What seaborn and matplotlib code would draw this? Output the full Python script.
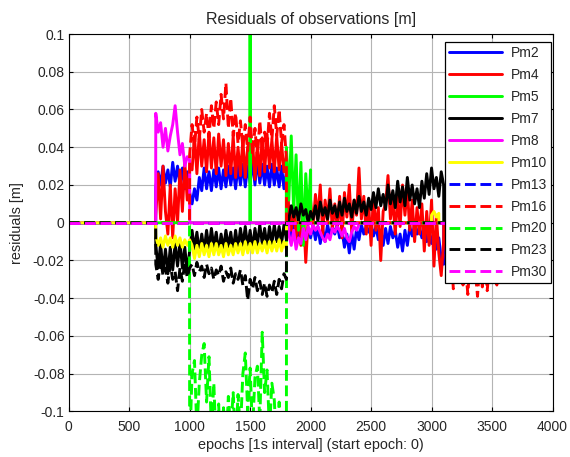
import numpy as np
import pandas as pd
import seaborn as sns
import matplotlib
matplotlib.use("Agg")
import matplotlib.pyplot as plt
from matplotlib.ticker import FuncFormatter, MultipleLocator

# ---------------------------------------------------------------------------
# Residuals per satellite (metres).  Each track is zero outside the listed
# segments; segments are (first epoch, epoch step, values).
# ---------------------------------------------------------------------------
END_EPOCH = 3560

pm2_early = [0.019, 0.027, 0.020, 0.030, 0.021, 0.028, 0.019, 0.032, 0.022, 0.030,
             0.020, 0.029, 0.018, 0.027, 0.016,
             0.010, 0.018, 0.012, 0.024, 0.017, 0.029, 0.018, 0.027, 0.017, 0.028,
             0.019, 0.029, 0.018, 0.028, 0.019, 0.030, 0.020, 0.029, 0.018, 0.030,
             0.020, 0.031, 0.019, 0.030, 0.021, 0.033, 0.020, 0.034, 0.021, 0.031,
             0.020, 0.030, 0.019, 0.031, 0.020, 0.029, 0.019, 0.030, 0.018, 0.027]
pm2_late = [-0.002, -0.009, -0.001, -0.010, -0.003, -0.011, -0.002, -0.012, -0.003, -0.008,
            -0.001, -0.009, -0.002, -0.011, -0.003, -0.010, -0.001, -0.007, -0.002, -0.006,
            -0.001, -0.008, -0.004, -0.013, -0.006, -0.016, -0.005, -0.014, -0.003, -0.009,
            -0.001, -0.006, -0.002, -0.005, -0.001, -0.007, -0.002, -0.009, -0.004, -0.012,
            -0.003, -0.011, -0.002, -0.008, -0.004, -0.013, -0.006, -0.015, -0.004, -0.012,
            -0.002, -0.007, -0.001, -0.006, -0.002, -0.008, -0.003, -0.010, -0.004, -0.011,
            -0.005, -0.014, -0.008, -0.019, -0.022]

pm4_early = [0.004, 0.026, 0.002, 0.030, 0.006, -0.006, 0.020, -0.008, 0.018, 0.000,
             0.028, 0.006, 0.032, 0.012, 0.030,
             0.028, 0.046, 0.026, 0.048, 0.030, 0.044, 0.027, 0.048, 0.029, 0.045,
             0.026, 0.047, 0.030, 0.044, 0.025, 0.042, 0.026, 0.046, 0.024, 0.040,
             0.025, 0.044, 0.024, 0.040, 0.026, 0.043, 0.023, 0.041, 0.025, 0.045,
             0.027, 0.047, 0.029, 0.044, 0.027, 0.046, 0.028, 0.042, 0.027, 0.036]
pm4_late = [0.006, -0.004, 0.010, -0.008, 0.004, -0.012, 0.008, -0.021, 0.002, 0.012,
            -0.003, 0.015, 0.002, 0.020, -0.006, 0.012, 0.001, 0.018, -0.004, 0.010,
            -0.002, 0.014, -0.008, 0.016, 0.003, 0.020, -0.005, 0.012, 0.004, 0.029,
            0.002, 0.014, -0.006, 0.010, -0.012, 0.015, -0.004, 0.008, -0.020, 0.006,
            0.010, 0.025, 0.002, 0.012, -0.006, 0.014, -0.002, 0.020, 0.004, 0.018,
            -0.004, 0.012, -0.010, 0.008, -0.006, 0.010, -0.015, 0.006, -0.012, 0.012,
            -0.023, 0.004, -0.016, -0.028, -0.010]

pm5_spike = [0.2]
pm5_late = [0.040, 0.012, 0.046, 0.006, 0.036, -0.004, 0.032, -0.012, 0.026, 0.002, 0.028]

pm7_early = [-0.012, -0.024, -0.011, -0.026, -0.014, -0.027, -0.013, -0.025, -0.011, -0.023,
             -0.010, -0.024, -0.013, -0.026, -0.015,
             -0.004, -0.014, -0.005, -0.016, -0.006, -0.015, -0.004, -0.014, -0.003, -0.013,
             -0.005, -0.016, -0.006, -0.014, -0.004, -0.013, -0.005, -0.015, -0.004, -0.014,
             -0.003, -0.012, -0.002, -0.013, -0.004, -0.014, -0.003, -0.012, -0.001, -0.011,
             -0.003, -0.013, -0.002, -0.011, -0.001, -0.010, -0.002, -0.011, -0.001, -0.009]
pm7_late = [0.002, 0.009, 0.003, 0.008, 0.001, 0.010, 0.004, 0.007, 0.000, 0.006,
            0.002, 0.009, 0.001, 0.011, 0.004, 0.008, 0.002, 0.012, 0.005, 0.009,
            0.003, 0.011, 0.004, 0.013, 0.006, 0.010, 0.003, 0.012, 0.005, 0.014,
            0.006, 0.011, 0.004, 0.013, 0.007, 0.016, 0.008, 0.018, 0.009, 0.015,
            0.007, 0.020, 0.010, 0.017, 0.008, 0.022, 0.011, 0.019, 0.009, 0.024,
            0.012, 0.020, 0.010, 0.018, 0.008, 0.022, 0.013, 0.026, 0.015, 0.029,
            0.018, 0.024, 0.014, 0.027, 0.020]

pm8_early = [0.058, 0.048, 0.053, 0.040, 0.050, 0.038, 0.046, 0.052, 0.062, 0.048,
             0.036, 0.042, 0.030, 0.035, 0.033]
pm8_late = [-0.006, -0.012, -0.004, -0.014, -0.008, -0.011, -0.003, -0.009, -0.002, -0.006,
            -0.001, -0.004, -0.002, -0.005, -0.008, -0.010, -0.006, -0.009, -0.003, -0.005,
            -0.002, -0.004, -0.007, -0.003, -0.008, -0.010, -0.005, -0.002, -0.004, -0.001]

pm10_vals = [-0.007, -0.012, -0.008, -0.013, -0.007, -0.012, -0.008, -0.013, -0.007, -0.012,
             -0.008, -0.013, -0.009, -0.012, -0.009,
             -0.012, -0.019, -0.012, -0.018, -0.011, -0.017, -0.012, -0.018, -0.011, -0.017,
             -0.011, -0.017, -0.012, -0.018, -0.011, -0.017, -0.012, -0.017, -0.011, -0.016,
             -0.011, -0.017, -0.010, -0.016, -0.011, -0.016, -0.010, -0.016, -0.011, -0.015,
             -0.010, -0.016, -0.010, -0.015, -0.010, -0.015, -0.009, -0.015, -0.010, -0.014]
pm10_blip = [0.004, 0.006, 0.003, 0.005]

pm16_mid = [0.036, 0.052, 0.040, 0.056, 0.044, 0.060, 0.048, 0.058, 0.045, 0.062,
            0.050, 0.064, 0.052, 0.068, 0.055, 0.074, 0.050, 0.066, 0.046, 0.058,
            0.042, 0.054, 0.040, 0.052, 0.038, 0.056, 0.036, 0.050, 0.034, 0.054,
            0.038, 0.048, 0.040, 0.058, 0.044, 0.062, 0.046, 0.060, 0.042, 0.052,
            0.034]
pm16_tail = [-0.018, -0.030, -0.012, -0.035, -0.020, -0.028, -0.015, -0.033, -0.022, -0.038,
             -0.018, -0.031, -0.024, -0.039, -0.020, -0.034, -0.016, -0.036, -0.022, -0.030,
             -0.026, -0.033]

pm20_vals = [-0.120, -0.080, -0.073, -0.110, -0.085, -0.070, -0.064, -0.095, -0.071, -0.110,
             -0.085, -0.120, -0.096, -0.130, -0.098, -0.120, -0.092, -0.110, -0.090, -0.120,
             -0.091, -0.110, -0.080, -0.069, -0.100, -0.077, -0.110, -0.082, -0.076, -0.105,
             -0.058, -0.090, -0.078, -0.110, -0.085, -0.094, -0.120, -0.095, -0.120, -0.130,
             -0.120]

pm23_vals = [-0.022, -0.030, -0.019, -0.028, -0.024, -0.032, -0.022, -0.030, -0.026, -0.036,
             -0.024, -0.031, -0.021, -0.029, -0.024,
             -0.022, -0.028, -0.021, -0.026, -0.023, -0.029, -0.022, -0.027, -0.024, -0.030,
             -0.025, -0.028, -0.023, -0.031, -0.026, -0.029, -0.024, -0.032, -0.027, -0.030,
             -0.025, -0.033, -0.028, -0.041, -0.030, -0.035, -0.029, -0.036, -0.031, -0.038,
             -0.032, -0.039, -0.033, -0.037, -0.031, -0.038, -0.030, -0.035, -0.027, -0.030]

tracks = {
    "Pm2":  [(720, 20, pm2_early + pm2_late)],
    "Pm4":  [(720, 20, pm4_early + pm4_late)],
    "Pm5":  [(1500, 1, pm5_spike), (1800, 20, pm5_late)],
    "Pm7":  [(720, 20, pm7_early + pm7_late)],
    "Pm8":  [(720, 20, pm8_early), (1820, 20, pm8_late)],
    "Pm10": [(720, 20, pm10_vals), (3000, 20, pm10_blip)],
    "Pm13": [],
    "Pm16": [(1000, 20, pm16_mid), (3120, 20, pm16_tail)],
    "Pm20": [(1000, 20, pm20_vals)],
    "Pm23": [(720, 20, pm23_vals)],
    "Pm30": [],
}
colors = {"Pm2": "#0000ff", "Pm4": "#ff0000", "Pm5": "#00ff00", "Pm7": "#000000",
          "Pm8": "#ff00ff", "Pm10": "#ffff00", "Pm13": "#0000ff", "Pm16": "#ff0000",
          "Pm20": "#00ff00", "Pm23": "#000000", "Pm30": "#ff00ff"}
dashed = {"Pm13", "Pm16", "Pm20", "Pm23", "Pm30"}


def build(segments):
    """Expand segments into epoch/residual pairs, zero between segments."""
    xs, ys = [0.0], [0.0]
    for start, step, vals in segments:
        ex = start + step * np.arange(len(vals))
        xs += [start - 1]
        ys += [0.0]
        xs += list(ex)
        ys += list(vals)
        xs += [ex[-1] + 1]
        ys += [0.0]
    xs += [END_EPOCH]
    ys += [0.0]
    return pd.DataFrame({"epoch": xs, "residual": ys})


def tick_fmt(v, _):
    v = round(v, 3)
    return "0" if v == 0 else f"{v:g}"


sns.set_style("ticks")
plt.rcParams["font.family"] = ["Liberation Sans", "DejaVu Sans"]
plt.rcParams["axes.unicode_minus"] = False

fig = plt.figure(figsize=(5.7, 4.57), dpi=100)
ax = fig.add_axes([0.1205, 0.0996, 0.8488, 0.826])

for name, segs in tracks.items():
    df = build(segs)
    sns.lineplot(data=df, x="epoch", y="residual", ax=ax, color=colors[name],
                 linestyle="--" if name in dashed else "-", linewidth=2.1,
                 estimator=None, sort=False, label=name, legend=False)

ax.set_xlim(0, 4000)
ax.set_ylim(-0.1, 0.1)
ax.xaxis.set_major_locator(MultipleLocator(500))
ax.yaxis.set_major_locator(MultipleLocator(0.02))
ax.yaxis.set_major_formatter(FuncFormatter(tick_fmt))
ax.grid(True, color="#b4b4b4", linewidth=0.8)
ax.set_axisbelow(True)
ax.tick_params(direction="in", top=True, right=True, length=3, labelsize=10,
               color="black", width=0.8)
ax.tick_params(axis="x", pad=6)
ax.tick_params(axis="y", pad=3)
for sp in ax.spines.values():
    sp.set_color("black")
    sp.set_linewidth(0.8)

ax.set_title("Residuals of observations [m]", fontsize=11.5, pad=7)
ax.set_xlabel("epochs [1s interval] (start epoch: 0)", fontsize=10.4, labelpad=3)
ax.set_ylabel("residuals [m]", fontsize=10.4, labelpad=6)

leg = ax.legend(handles=ax.lines, labels=list(tracks.keys()), loc="upper right",
                bbox_to_anchor=(0.997, 0.979), fontsize=10, frameon=True,
                fancybox=False, framealpha=1, edgecolor="black",
                handlelength=3.8, handletextpad=0.6, labelspacing=0.57,
                borderpad=0.3, borderaxespad=0)
leg.get_frame().set_linewidth(0.9)

fig.savefig("out.png", dpi=100, facecolor="white")
